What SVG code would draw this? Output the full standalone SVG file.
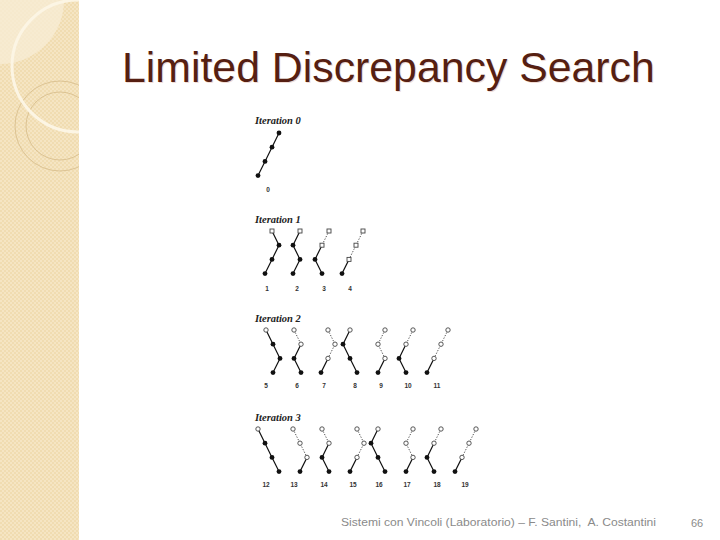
<svg xmlns="http://www.w3.org/2000/svg" width="720" height="540" viewBox="0 0 720 540">
<defs>
<pattern id="chk" width="4" height="4" patternUnits="userSpaceOnUse">
<rect width="4" height="4" fill="#f0dcb1"/>
<rect width="2" height="2" fill="#f5e5c3"/>
<rect x="2" y="2" width="2" height="2" fill="#f5e5c3"/>
</pattern>
<clipPath id="strip"><rect x="0" y="0" width="79" height="540"/></clipPath>
<style>
.s{stroke:#111;stroke-width:1.2;fill:none}
.d{stroke:#555;stroke-width:1;stroke-dasharray:1.3 1.5;fill:none}
.f{fill:#111}
.o{fill:#fff;stroke:#444;stroke-width:0.9}
.lab{font-family:"Liberation Sans",Arial,sans-serif;font-size:6.5px;font-weight:bold;fill:#333;text-anchor:middle}
.it{font-family:"Liberation Serif","Times New Roman",serif;font-style:italic;font-weight:bold;font-size:10.5px;fill:#222}
.foot{font-family:"Liberation Sans",Arial,sans-serif;font-size:11px;fill:#8a8a8a}
</style>
</defs>
<rect width="720" height="540" fill="#fff"/>
<g id="background" clip-path="url(#strip)">
<rect x="0" y="0" width="79" height="540" fill="url(#chk)"/>
<circle cx="0" cy="0" r="64" fill="#f7ecd5" opacity="0.8"/>
<circle cx="60" cy="126" r="45" fill="none" stroke="#dcc393" stroke-width="1"/>
<circle cx="60" cy="126" r="34" fill="none" stroke="#dcc393" stroke-width="1"/>
<circle cx="78" cy="66" r="66" fill="none" stroke="#fcf5e4" stroke-width="3"/>
</g>
<g id="title">
<text x="123" y="83" font-family="Liberation Sans,Arial,sans-serif" font-size="42.8" fill="#f0dcd5">Limited Discrepancy Search</text>
<text x="122" y="82" font-family="Liberation Sans,Arial,sans-serif" font-size="42.8" fill="#561f12">Limited Discrepancy Search</text>
</g>
<g id="iteration-labels">
<text class="it" x="255" y="123.5">Iteration 0</text>
<text class="it" x="255" y="223">Iteration 1</text>
<text class="it" x="255" y="321.5">Iteration 2</text>
<text class="it" x="255" y="421">Iteration 3</text>
</g>
<g id="connectors">
<path class="s" d="M279 133L272 147.2L265 161.4L258 175.6"/>
<path class="s" d="M272 231L279 245.2L272 259.4L265 273.6"/>
<path class="s" d="M300 231L293 245.2L300 259.4L293 273.6"/>
<path class="d" d="M329 231L322 245.2"/><path class="s" d="M322 245.2L315 259.4L322 273.6"/>
<path class="d" d="M363 231L356 245.2L349 259.4"/><path class="s" d="M349 259.4L342 273.6"/>
<path class="s" d="M266 330L273 344.2L280 358.4L273 372.6"/>
<path class="d" d="M294 330L301 344.2"/><path class="s" d="M301 344.2L294 358.4L301 372.6"/>
<path class="d" d="M328 330L335 344.2L328 358.4"/><path class="s" d="M328 358.4L321 372.6"/>
<path class="s" d="M350 330L343 344.2L350 358.4L357 372.6"/>
<path class="d" d="M385 330L378 344.2L385 358.4"/><path class="s" d="M385 358.4L378 372.6"/>
<path class="d" d="M413 330L406 344.2"/><path class="s" d="M406 344.2L399 358.4L406 372.6"/>
<path class="d" d="M448 330L441 344.2L434 358.4"/><path class="s" d="M434 358.4L427 372.6"/>
<path class="s" d="M258 429L265 443.2L272 457.4L279 471.6"/>
<path class="d" d="M293 429L300 443.2L307 457.4"/><path class="s" d="M307 457.4L300 471.6"/>
<path class="d" d="M322 429L329 443.2"/><path class="s" d="M329 443.2L322 457.4L329 471.6"/>
<path class="d" d="M357 429L364 443.2L357 457.4"/><path class="s" d="M357 457.4L350 471.6"/>
<path class="s" d="M378 429L371 443.2L378 457.4L385 471.6"/>
<path class="d" d="M413 429L406 443.2L413 457.4"/><path class="s" d="M413 457.4L406 471.6"/>
<path class="d" d="M441 429L434 443.2"/><path class="s" d="M434 443.2L427 457.4L434 471.6"/>
<path class="d" d="M476 429L469 443.2L462 457.4"/><path class="s" d="M462 457.4L455 471.6"/>
</g>
<g id="tree-0">
<circle class="f" cx="279" cy="133" r="2.4"/><circle class="f" cx="272" cy="147.2" r="2.4"/><circle class="f" cx="265" cy="161.4" r="2.4"/><circle class="f" cx="258" cy="175.6" r="2.4"/>
<text class="lab" x="268" y="192.3">0</text>
</g>
<g id="tree-1">
<rect class="o" x="270" y="229" width="4" height="4"/><circle class="f" cx="279" cy="245.2" r="2.4"/><circle class="f" cx="272" cy="259.4" r="2.4"/><circle class="f" cx="265" cy="273.6" r="2.4"/>
<text class="lab" x="267" y="291.3">1</text>
</g>
<g id="tree-2">
<rect class="o" x="298" y="229" width="4" height="4"/><circle class="f" cx="293" cy="245.2" r="2.4"/><circle class="f" cx="300" cy="259.4" r="2.4"/><circle class="f" cx="293" cy="273.6" r="2.4"/>
<text class="lab" x="297" y="291.3">2</text>
</g>
<g id="tree-3">
<rect class="o" x="327" y="229" width="4" height="4"/><rect class="o" x="320" y="243.2" width="4" height="4"/><circle class="f" cx="315" cy="259.4" r="2.4"/><circle class="f" cx="322" cy="273.6" r="2.4"/>
<text class="lab" x="324" y="291.3">3</text>
</g>
<g id="tree-4">
<rect class="o" x="361" y="229" width="4" height="4"/><rect class="o" x="354" y="243.2" width="4" height="4"/><rect class="o" x="347" y="257.4" width="4" height="4"/><circle class="f" cx="342" cy="273.6" r="2.4"/>
<text class="lab" x="350" y="291.3">4</text>
</g>
<g id="tree-5">
<circle class="o" cx="266" cy="330" r="2.2"/><circle class="f" cx="273" cy="344.2" r="2.4"/><circle class="f" cx="280" cy="358.4" r="2.4"/><circle class="f" cx="273" cy="372.6" r="2.4"/>
<text class="lab" x="266" y="388.3">5</text>
</g>
<g id="tree-6">
<circle class="o" cx="294" cy="330" r="2.2"/><circle class="o" cx="301" cy="344.2" r="2.2"/><circle class="f" cx="294" cy="358.4" r="2.4"/><circle class="f" cx="301" cy="372.6" r="2.4"/>
<text class="lab" x="297" y="388.3">6</text>
</g>
<g id="tree-7">
<circle class="o" cx="328" cy="330" r="2.2"/><circle class="o" cx="335" cy="344.2" r="2.2"/><circle class="o" cx="328" cy="358.4" r="2.2"/><circle class="f" cx="321" cy="372.6" r="2.4"/>
<text class="lab" x="324" y="388.3">7</text>
</g>
<g id="tree-8">
<circle class="o" cx="350" cy="330" r="2.2"/><circle class="f" cx="343" cy="344.2" r="2.4"/><circle class="f" cx="350" cy="358.4" r="2.4"/><circle class="f" cx="357" cy="372.6" r="2.4"/>
<text class="lab" x="355" y="388.3">8</text>
</g>
<g id="tree-9">
<circle class="o" cx="385" cy="330" r="2.2"/><circle class="o" cx="378" cy="344.2" r="2.2"/><circle class="o" cx="385" cy="358.4" r="2.2"/><circle class="f" cx="378" cy="372.6" r="2.4"/>
<text class="lab" x="381" y="388.3">9</text>
</g>
<g id="tree-10">
<circle class="o" cx="413" cy="330" r="2.2"/><circle class="o" cx="406" cy="344.2" r="2.2"/><circle class="f" cx="399" cy="358.4" r="2.4"/><circle class="f" cx="406" cy="372.6" r="2.4"/>
<text class="lab" x="408" y="388.3">10</text>
</g>
<g id="tree-11">
<circle class="o" cx="448" cy="330" r="2.2"/><circle class="o" cx="441" cy="344.2" r="2.2"/><circle class="o" cx="434" cy="358.4" r="2.2"/><circle class="f" cx="427" cy="372.6" r="2.4"/>
<text class="lab" x="437" y="388.3">11</text>
</g>
<g id="tree-12">
<circle class="o" cx="258" cy="429" r="2.2"/><circle class="f" cx="265" cy="443.2" r="2.4"/><circle class="f" cx="272" cy="457.4" r="2.4"/><circle class="f" cx="279" cy="471.6" r="2.4"/>
<text class="lab" x="266" y="487.3">12</text>
</g>
<g id="tree-13">
<circle class="o" cx="293" cy="429" r="2.2"/><circle class="o" cx="300" cy="443.2" r="2.2"/><circle class="o" cx="307" cy="457.4" r="2.2"/><circle class="f" cx="300" cy="471.6" r="2.4"/>
<text class="lab" x="294" y="487.3">13</text>
</g>
<g id="tree-14">
<circle class="o" cx="322" cy="429" r="2.2"/><circle class="o" cx="329" cy="443.2" r="2.2"/><circle class="f" cx="322" cy="457.4" r="2.4"/><circle class="f" cx="329" cy="471.6" r="2.4"/>
<text class="lab" x="324" y="487.3">14</text>
</g>
<g id="tree-15">
<circle class="o" cx="357" cy="429" r="2.2"/><circle class="o" cx="364" cy="443.2" r="2.2"/><circle class="o" cx="357" cy="457.4" r="2.2"/><circle class="f" cx="350" cy="471.6" r="2.4"/>
<text class="lab" x="353" y="487.3">15</text>
</g>
<g id="tree-16">
<circle class="o" cx="378" cy="429" r="2.2"/><circle class="f" cx="371" cy="443.2" r="2.4"/><circle class="f" cx="378" cy="457.4" r="2.4"/><circle class="f" cx="385" cy="471.6" r="2.4"/>
<text class="lab" x="379" y="487.3">16</text>
</g>
<g id="tree-17">
<circle class="o" cx="413" cy="429" r="2.2"/><circle class="o" cx="406" cy="443.2" r="2.2"/><circle class="o" cx="413" cy="457.4" r="2.2"/><circle class="f" cx="406" cy="471.6" r="2.4"/>
<text class="lab" x="407" y="487.3">17</text>
</g>
<g id="tree-18">
<circle class="o" cx="441" cy="429" r="2.2"/><circle class="o" cx="434" cy="443.2" r="2.2"/><circle class="f" cx="427" cy="457.4" r="2.4"/><circle class="f" cx="434" cy="471.6" r="2.4"/>
<text class="lab" x="437" y="487.3">18</text>
</g>
<g id="tree-19">
<circle class="o" cx="476" cy="429" r="2.2"/><circle class="o" cx="469" cy="443.2" r="2.2"/><circle class="o" cx="462" cy="457.4" r="2.2"/><circle class="f" cx="455" cy="471.6" r="2.4"/>
<text class="lab" x="465" y="487.3">19</text>
</g>
<g id="footer">
<text class="foot" x="341" y="526" textLength="315" lengthAdjust="spacingAndGlyphs">Sistemi con Vincoli (Laboratorio) – F. Santini,&#160; A. Costantini</text>
<text class="foot" x="691" y="527">66</text>
</g>
</svg>
